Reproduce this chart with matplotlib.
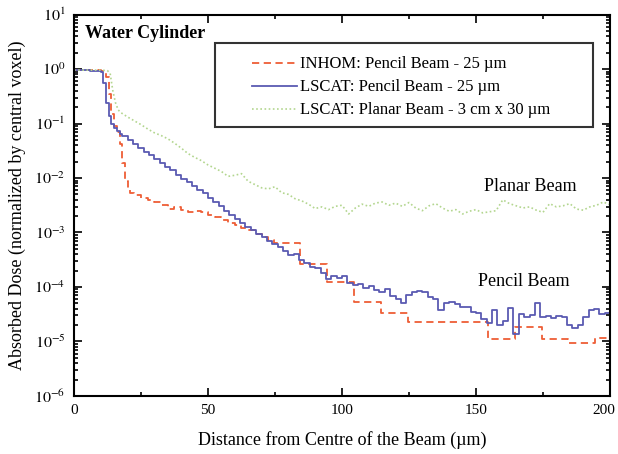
import numpy as np
import matplotlib
matplotlib.use("Agg")
import matplotlib.pyplot as plt
import matplotlib.transforms as mtransforms
from matplotlib.patches import Rectangle
from matplotlib.ticker import FixedLocator, LogLocator, NullFormatter, FuncFormatter

plt.rcParams['font.family'] = ['Liberation Serif', 'DejaVu Serif']
plt.rcParams['mathtext.fontset'] = 'stix'

# ---- data (log10 of normalized dose) ----
inhom_x = [0, 2, 4, 6, 8, 10, 12, 13, 14, 15, 16, 17, 18, 19, 20, 21, 22.5, 25, 27.5,
           30, 32.5, 35, 37.5, 40, 42.5, 45, 47.5, 50, 52.5, 55, 57.5, 60, 62.5, 65,
           67.5, 70, 72.5, 74.5, 84.5, 94.5, 104.5, 114.5, 124.5, 134.5, 144.5, 154.5,
           164.5, 174.5, 184.5, 194.5, 200]
inhom_log = [-0.01, -0.01, -0.01, -0.02, -0.02, -0.03, -0.15, -0.45, -0.82, -1.05, -1.15,
             -1.38, -1.72, -2.05, -2.18, -2.27, -2.31, -2.36, -2.40, -2.44, -2.50, -2.57,
             -2.53, -2.58, -2.62, -2.61, -2.63, -2.68, -2.72, -2.77, -2.82, -2.87, -2.92,
             -2.96, -3.02, -3.08, -3.14, -3.20, -3.57, -3.90, -4.27, -4.48, -4.64, -4.64,
             -4.64, -4.95, -4.73, -4.96, -5.03, -4.94, -4.94]

pencil_x = [0, 2, 4, 6, 8, 10, 11, 12, 13, 14, 15, 16, 17, 18, 20, 22, 24, 26, 28, 30,
            32, 34, 36, 38, 40, 42, 44, 46, 48, 50, 52, 54, 56, 58, 60, 62, 64, 66, 68,
            70, 72, 74, 76, 78, 80, 82, 84, 86, 88, 90, 92, 94, 96, 98, 100, 102, 104,
            106, 108, 110, 112, 114, 116, 118, 120, 122, 124, 126, 128, 130, 132, 134,
            136, 138, 140, 142, 144, 146, 148, 150, 152, 154, 156, 158, 160, 162, 164,
            166, 168, 170, 172, 174, 176, 178, 180, 182, 184, 186, 188, 190, 192, 194,
            196, 198, 200]
pencil_log = [-0.02, -0.02, -0.02, -0.03, -0.03, -0.06, -0.25, -0.62, -0.86, -1.00,
              -1.08, -1.14, -1.19, -1.23, -1.30, -1.38, -1.45, -1.52, -1.58, -1.65,
              -1.72, -1.79, -1.86, -1.94, -2.01, -2.08, -2.15, -2.22, -2.28, -2.36,
              -2.44, -2.52, -2.60, -2.68, -2.76, -2.83, -2.90, -2.96, -3.03, -3.09,
              -3.15, -3.21, -3.27, -3.34, -3.42, -3.40, -3.50, -3.56, -3.63, -3.66,
              -3.74, -3.85, -3.80, -3.83, -3.79, -3.92, -3.97, -3.95, -4.02, -3.99,
              -4.06, -4.10, -4.03, -4.16, -4.22, -4.30, -4.15, -4.10, -4.07, -4.10,
              -4.18, -4.22, -4.42, -4.30, -4.27, -4.32, -4.36, -4.36, -4.45, -4.47,
              -4.58, -4.66, -4.42, -4.70, -4.62, -4.38, -4.86, -4.50, -4.55, -4.52,
              -4.30, -4.55, -4.54, -4.57, -4.53, -4.55, -4.70, -4.76, -4.70, -4.55,
              -4.42, -4.40, -4.50, -4.48, -4.48]

planar_x = [0, 2.5, 5, 7.5, 10, 12.5, 13.5, 14.5, 15.5, 16.5, 17.5, 20, 22.5, 25, 27.5,
            30, 32.5, 35, 37.5, 40, 42.5, 45, 47.5, 50, 52.5, 55, 57.5, 60, 62.5, 65,
            67.5, 70, 72.5, 75, 77.5, 80, 82.5, 85, 87.5, 90, 92.5, 95, 97.5, 100,
            102.5, 105, 107.5, 110, 112.5, 115, 117.5, 120, 122.5, 125, 127.5, 130,
            132.5, 135, 137.5, 140, 142.5, 145, 147.5, 150, 152.5, 155, 157.5, 160,
            162.5, 165, 167.5, 170, 172.5, 175, 177.5, 180, 182.5, 185, 187.5, 190,
            192.5, 195, 197.5, 200]
planar_log = [-0.02, -0.02, -0.02, -0.02, -0.02, -0.03, -0.08, -0.40, -0.62, -0.75,
              -0.80, -0.88, -0.95, -1.02, -1.10, -1.17, -1.22, -1.28, -1.36, -1.45,
              -1.55, -1.62, -1.68, -1.76, -1.82, -1.88, -1.97, -1.95, -1.92, -2.06,
              -2.12, -2.18, -2.20, -2.16, -2.27, -2.30, -2.38, -2.42, -2.48, -2.56,
              -2.53, -2.58, -2.52, -2.50, -2.66, -2.55, -2.48, -2.52, -2.46, -2.44,
              -2.50, -2.46, -2.52, -2.45, -2.55, -2.60, -2.51, -2.47, -2.55, -2.61,
              -2.58, -2.66, -2.61, -2.58, -2.64, -2.62, -2.60, -2.40, -2.47, -2.51,
              -2.55, -2.53, -2.59, -2.63, -2.47, -2.53, -2.51, -2.47, -2.57, -2.59,
              -2.53, -2.50, -2.44, -2.49]

x_ticks = [0, 50, 100, 150, 200]
y_decades = [-6, -5, -4, -3, -2, -1, 0, 1]

fig = plt.figure(figsize=(6.18, 4.54), dpi=100)
ax = fig.add_axes([0.1197, 0.1278, 0.8673, 0.8402])

ax.plot(inhom_x, 10.0 ** np.array(inhom_log), drawstyle='steps-post',
        color='#ee5e36', lw=1.3, ls=(0, (4, 2.5)), label='INHOM: Pencil Beam - 25 \u00b5m')
ax.plot(pencil_x, 10.0 ** np.array(pencil_log), drawstyle='steps-post',
        color='#5a5ab2', lw=1.3, label='LSCAT: Pencil Beam - 25 \u00b5m')
ax.plot(planar_x, 10.0 ** np.array(planar_log),
        color='#b3d68f', lw=1.2, ls=(0, (1, 1.5)), label='LSCAT: Planar Beam - 3 cm x 30 \u00b5m')

ax.set_yscale('log')
ax.set_xlim(0, 200)
ax.set_ylim(1e-6, 1e1)

ax.xaxis.set_major_locator(FixedLocator(x_ticks))
ax.xaxis.set_minor_locator(FixedLocator([25, 75, 125, 175]))
ax.yaxis.set_major_locator(FixedLocator([10.0 ** d for d in y_decades]))
ax.yaxis.set_minor_locator(LogLocator(base=10, subs=np.arange(2, 10), numticks=20))
ax.yaxis.set_minor_formatter(NullFormatter())
ax.yaxis.set_major_formatter(FuncFormatter(lambda v, p: r'$10^{%d}$' % int(round(np.log10(v)))))

ax.tick_params(which='both', direction='in', top=True, right=True, width=1.2, labelsize=11)
ax.tick_params(which='major', length=6)
ax.tick_params(which='minor', length=3)
ax.tick_params(axis='y', which='major', labelsize=11.5, pad=6)
ax.tick_params(axis='x', which='major', pad=6)
for s in ax.spines.values():
    s.set_linewidth(1.5)

fig.canvas.draw()
last = ax.get_xticklabels()[-1]
last.set_transform(last.get_transform() + mtransforms.ScaledTranslation(-6 / 100, 0, fig.dpi_scale_trans))

ax.set_xlabel('Distance from Centre of the Beam (\u00b5m)', fontsize=13, labelpad=10)
ax.set_ylabel('Absorbed Dose (normalized by central voxel)', fontsize=13, labelpad=6)

ax.text(0.02, 0.972, 'Water Cylinder', transform=ax.transAxes, fontsize=13,
        fontweight='bold', va='top', ha='left')
ax.text(0.851, 0.55, 'Planar Beam', transform=ax.transAxes, fontsize=13,
        ha='center', va='center')
ax.text(0.84, 0.299, 'Pencil Beam', transform=ax.transAxes, fontsize=13,
        ha='center', va='center')

ax.add_patch(Rectangle((0.263, 0.705), 0.705, 0.22, transform=ax.transAxes,
                       facecolor='white', edgecolor='#333333', lw=1.5, zorder=4))
leg = ax.legend(loc='upper left', bbox_to_anchor=(0.332, 0.89), fontsize=12,
                frameon=False, handlelength=2.7, handletextpad=0.2, borderpad=0,
                labelspacing=0.42, borderaxespad=0)
leg.set_zorder(5)

fig.savefig('out.png', dpi=100)
